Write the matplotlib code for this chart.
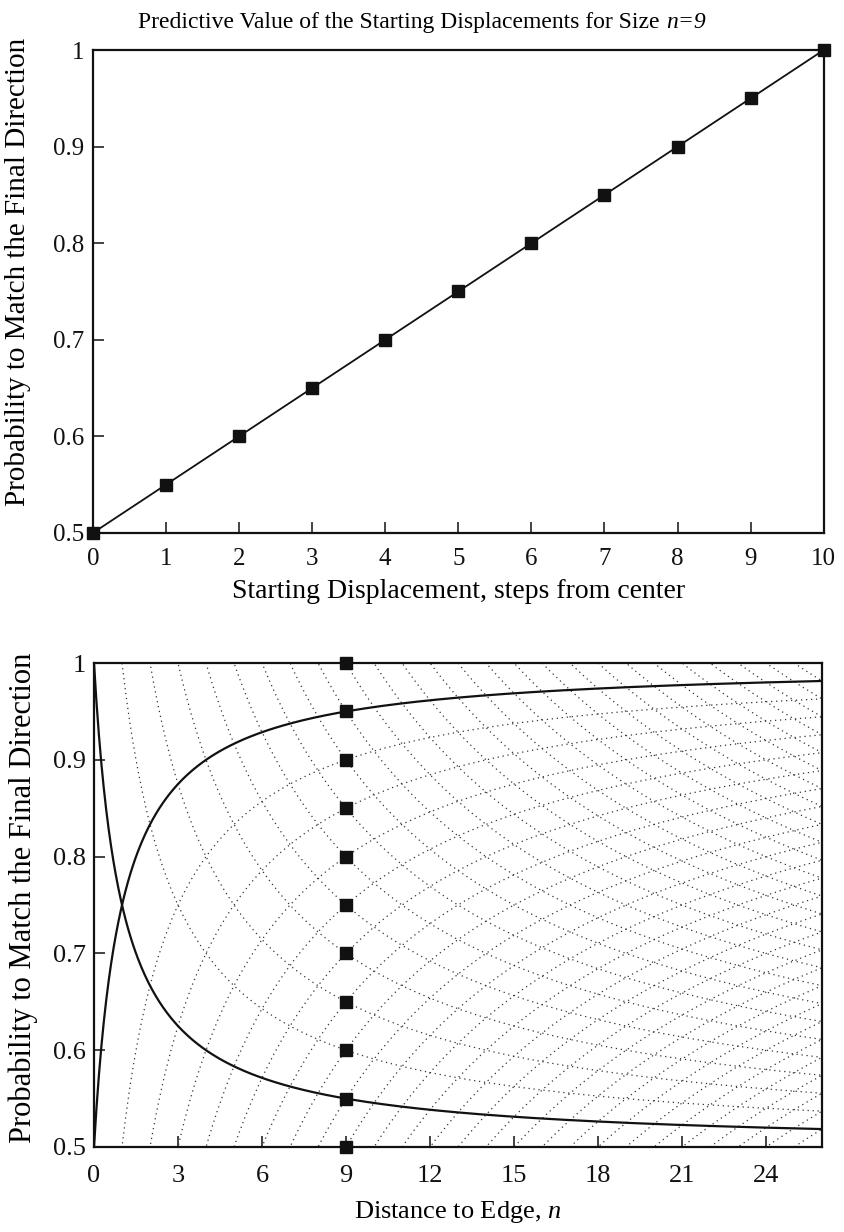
import numpy as np
import matplotlib
matplotlib.use("Agg")
from matplotlib import pyplot as plt
from matplotlib.ticker import FormatStrFormatter

plt.rcParams['font.family'] = ['Liberation Serif', 'DejaVu Serif']
plt.rcParams['mathtext.fontset'] = 'custom'
plt.rcParams['mathtext.it'] = 'Liberation Serif:italic'
plt.rcParams['mathtext.rm'] = 'Liberation Serif'

# top chart: probability vs starting displacement for n=9
displacement = [0, 1, 2, 3, 4, 5, 6, 7, 8, 9, 10]
prob_match = [0.5, 0.55, 0.6, 0.65, 0.7, 0.75, 0.8, 0.85, 0.9, 0.95, 1.0]

# bottom chart: markers at the chosen size, and the curve families
size_n = 9
curve_steps = list(range(2, 28))   # dotted curves, one per step count
solid_step = 1                      # the two solid curves
n_max = 26

top_xticks = [0, 1, 2, 3, 4, 5, 6, 7, 8, 9, 10]
bottom_xticks = [0, 3, 6, 9, 12, 15, 18, 21, 24]
yticks = [0.5, 0.6, 0.7, 0.8, 0.9, 1.0]

ink = '#111111'
fig = plt.figure(figsize=(8.44, 12.32), dpi=100)
ax1 = fig.add_axes([0.110, 0.5674, 0.866, 0.392])
ax2 = fig.add_axes([0.1114, 0.069, 0.8626, 0.3928])


def style(ax, tick_size, xpad, ylab_size, ylab_x, ylab_y):
    for s in ax.spines.values():
        s.set_linewidth(1.6)
        s.set_color(ink)
    ax.tick_params(direction='in', length=8, width=1.1, labelsize=tick_size,
                   top=False, right=False, colors=ink)
    ax.tick_params(axis='x', pad=xpad)
    ax.tick_params(axis='y', pad=6)
    ax.set_ylim(0.5, 1.0)
    ax.set_yticks(yticks)
    ax.yaxis.set_major_formatter(FormatStrFormatter('%g'))
    ax.set_ylabel('Probability to Match the Final Direction', fontsize=ylab_size, va='center')
    ax.yaxis.set_label_coords(ylab_x, ylab_y)


# ---- top
ax1.plot(displacement, prob_match, color=ink, lw=1.3, marker='s', ms=8,
         mfc=ink, mec=ink, clip_on=False, zorder=3)
ax1.set_xlim(0, 10)
ax1.set_xticks(top_xticks)
style(ax1, 18, 11, 21, -0.103, 0.54)
ax1.set_xlabel('Starting Displacement, steps from center', fontsize=20, va='center')
ax1.xaxis.set_label_coords(0.5, -0.122)

# title: plain part + italic "n=9", centred together on the figure
t1 = fig.text(0.5, 0.982, 'Predictive Value of the Starting Displacements for Size ',
              fontsize=17, ha='left', va='center')
t2 = fig.text(0.5, 0.982, 'n=9', fontsize=17, style='italic', ha='left', va='center')
r = fig.canvas.get_renderer()
w1 = t1.get_window_extent(r).width / fig.bbox.width
w2 = t2.get_window_extent(r).width / fig.bbox.width
x0 = 0.5 - (w1 + w2) / 2
t1.set_x(x0)
t2.set_x(x0 + w1)

# ---- bottom
n = np.linspace(0, n_max, 600)
for k in curve_steps:
    ax2.plot(n, 0.5 + k / (2 * (n + 1)), color='#333333', lw=0.9, ls=(0, (1, 3)))
    ax2.plot(n, 1 - k / (2 * (n + 1)), color='#333333', lw=0.9, ls=(0, (1, 3)))
ax2.plot(n, 0.5 + solid_step / (2 * (n + 1)), color=ink, lw=1.6)
ax2.plot(n, 1 - solid_step / (2 * (n + 1)), color=ink, lw=1.6)
ax2.plot([size_n] * len(prob_match), prob_match, ls='none', marker='s', ms=8,
         mfc=ink, mec=ink, clip_on=False, zorder=4)
ax2.set_xlim(0, n_max)
ax2.set_xticks(bottom_xticks)
style(ax2, 19, 13, 22, -0.097, 0.515)
ax2.set_xlabel('Distance to Edge, $n$', fontsize=19, va='center')
ax2.xaxis.set_label_coords(0.5, -0.134)

fig.savefig('out.png', dpi=100)
